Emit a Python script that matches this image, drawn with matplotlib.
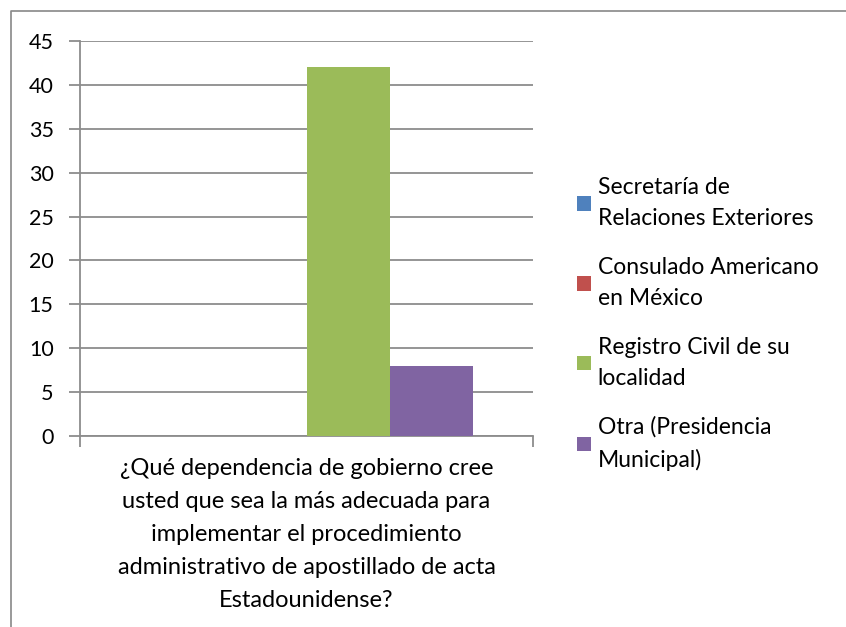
import matplotlib.pyplot as plt
from matplotlib.lines import Line2D

plt.rcParams['font.family'] = ['Lato', 'DejaVu Sans']

series = ["Secretaría de\nRelaciones Exteriores",
          "Consulado Americano\nen México",
          "Registro Civil de su\nlocalidad",
          "Otra (Presidencia\nMunicipal)"]
values = [0, 0, 42, 8]
colors = ["#4f81bd", "#c0504d", "#9bbb59", "#8064a2"]
category = ("¿Qué dependencia de gobierno cree\nusted que sea la más adecuada para\n"
            "implementar el procedimiento\nadministrativo de apostillado de acta\nEstadounidense?")

fig = plt.figure(figsize=(8.46, 6.27), dpi=100)
ax = fig.add_axes([80 / 846, 1 - 436 / 627, 453 / 846, 395 / 627])

# chart border: only left and top edges show in the original crop
bx, by = 11 / 846, 1 - 11 / 627
fig.lines.append(Line2D([bx, bx, 1.0], [0.0, by, by], transform=fig.transFigure,
                        color="#888888", linewidth=1.2))

w = 83 / 453
n = len(values)
handles = []
for i, (v, c) in enumerate(zip(values, colors)):
    x = (i - (n - 1) / 2) * w
    b = ax.bar(x, v, width=w, color=c, zorder=3)
    handles.append(b)

ax.set_xlim(-0.5, 0.5)
ax.set_ylim(0, 45)
ax.set_yticks(range(0, 46, 5))
ax.yaxis.grid(True, color="#8c8c8c", linewidth=1.3, zorder=0)

for s in ["top", "right"]:
    ax.spines[s].set_visible(False)
for s in ["left", "bottom"]:
    ax.spines[s].set_color("#8c8c8c")
    ax.spines[s].set_linewidth(1.3)

ax.tick_params(axis="y", length=8, width=1.3, color="#8c8c8c", pad=11,
               labelsize=15.5, labelcolor="black")
ax.set_xticks([0])
ax.set_xticklabels([category], fontsize=17, linespacing=1.7)
ax.set_xticks([-0.5, 0.5], minor=True)
ax.tick_params(axis="x", which="major", length=0, pad=16)
ax.tick_params(axis="x", which="minor", length=8, width=1.3, color="#8c8c8c")

leg = fig.legend(handles, series, loc="upper left",
                 bbox_to_anchor=(568 / 846, 1 - 168 / 627),
                 frameon=False, fontsize=16.5, handlelength=0.6, handleheight=0.6,
                 handletextpad=0.3, labelspacing=1.2, borderaxespad=0)
for t in leg.get_texts():
    t.set_linespacing(1.6)

fig.savefig("out.png", dpi=100)
